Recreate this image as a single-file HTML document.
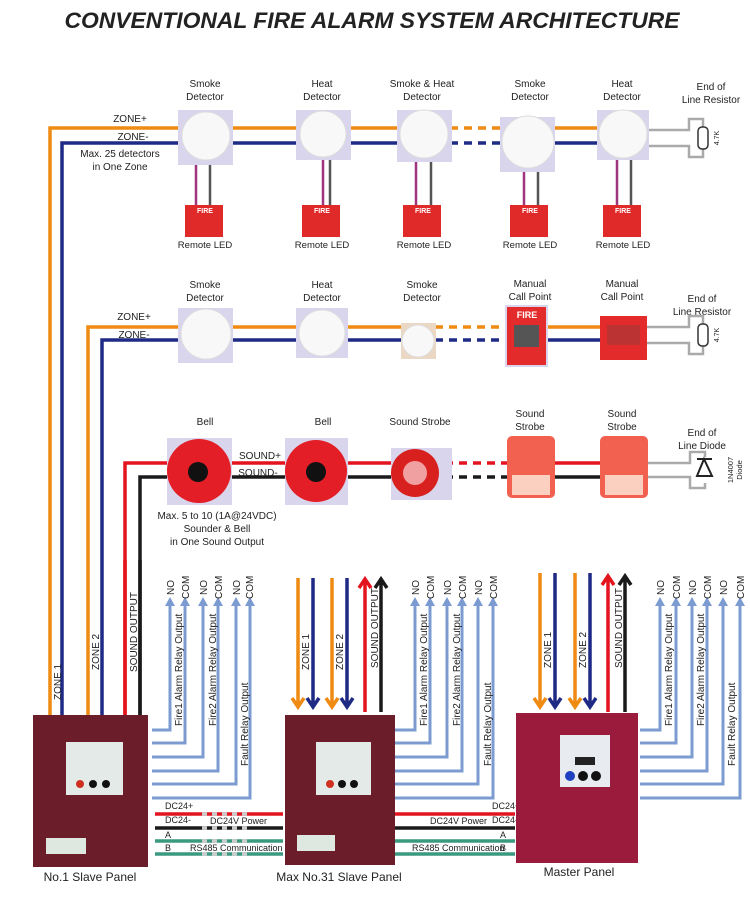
<!DOCTYPE html><html><head><meta charset="utf-8"><style>body{margin:0;background:#fff}svg{display:block}text{font-family:"Liberation Sans",sans-serif}</style></head><body>
<svg width="750" height="914" viewBox="0 0 750 914" xmlns="http://www.w3.org/2000/svg">
<text x="372" y="28" text-anchor="middle" font-size="22" font-weight="bold" font-style="italic" fill="#222" textLength="615" lengthAdjust="spacingAndGlyphs">CONVENTIONAL FIRE ALARM SYSTEM ARCHITECTURE</text>
<g font-size="10" fill="#222" text-anchor="middle">
<g fill="none" stroke-width="3.5">
<path d="M50 715V128H450" stroke="#ef8a12"/><path d="M62 715V143H450" stroke="#1f2a85"/>
<path d="M497 128H600" stroke="#ef8a12"/><path d="M497 143H600" stroke="#1f2a85"/>
<path d="M450 128H497" stroke="#ef8a12" stroke-dasharray="8 6"/><path d="M450 143H497" stroke="#1f2a85" stroke-dasharray="8 6"/>
</g>
<text x="130" y="122">ZONE+</text><text x="133" y="140">ZONE-</text>
<text x="120" y="157">Max. 25 detectors</text><text x="120" y="170">in One Zone</text>
<g stroke-width="2.5">
<path d="M196 160V205M323 160V205M416 160V205M524 170V205M617 160V205" stroke="#a0357f"/>
<path d="M210 160V205M330 160V205M431 160V205M538 170V205M631 160V205" stroke="#555"/>
</g>
<g fill="#d9d5ec">
<rect x="178" y="110" width="55" height="55"/><rect x="296" y="110" width="55" height="50"/><rect x="397" y="110" width="55" height="52"/><rect x="500" y="117" width="55" height="55"/><rect x="597" y="110" width="52" height="50"/>
</g>
<g fill="#f8f8f8" stroke="#ddd">
<circle cx="206" cy="136" r="24"/><circle cx="323" cy="134" r="23"/><circle cx="424" cy="134" r="24"/><circle cx="528" cy="142" r="26"/><circle cx="623" cy="134" r="24"/>
</g>
<g fill="#e02a2a"><rect x="185" y="205" width="38" height="32"/><rect x="302" y="205" width="38" height="32"/><rect x="403" y="205" width="38" height="32"/><rect x="510" y="205" width="38" height="32"/><rect x="603" y="205" width="38" height="32"/></g>
<g fill="#fff" font-size="7" font-weight="bold"><text x="205" y="213">FIRE</text><text x="322" y="213">FIRE</text><text x="423" y="213">FIRE</text><text x="530" y="213">FIRE</text><text x="623" y="213">FIRE</text></g>
<text x="205" y="87">Smoke</text><text x="205" y="100">Detector</text>
<text x="322" y="87">Heat</text><text x="322" y="100">Detector</text>
<text x="422" y="87">Smoke &amp; Heat</text><text x="422" y="100">Detector</text>
<text x="530" y="87">Smoke</text><text x="530" y="100">Detector</text>
<text x="622" y="87">Heat</text><text x="622" y="100">Detector</text>
<text x="711" y="90">End of</text><text x="711" y="103">Line Resistor</text>
<g font-size="9.5"><text x="205" y="248">Remote LED</text><text x="322" y="248">Remote LED</text><text x="424" y="248">Remote LED</text><text x="530" y="248">Remote LED</text><text x="623" y="248">Remote LED</text></g>
<g fill="none" stroke="#aaa" stroke-width="2.5"><path d="M649 130H689V119H703V128M649 146H689V157H703V148"/></g>
<rect x="698" y="127" width="10" height="22" rx="4" fill="#fff" stroke="#333" stroke-width="1.5"/>
<text x="0" y="0" font-size="7" transform="translate(719 138) rotate(-90)">4.7K</text>
<g fill="none" stroke-width="3.5">
<path d="M88 715V327H435" stroke="#ef8a12"/><path d="M102 715V340H435" stroke="#1f2a85"/>
<path d="M435 327H505" stroke="#ef8a12" stroke-dasharray="8 6"/><path d="M435 340H505" stroke="#1f2a85" stroke-dasharray="8 6"/>
<path d="M505 327H600" stroke="#ef8a12"/><path d="M505 340H600" stroke="#1f2a85"/>
</g>
<text x="134" y="320">ZONE+</text><text x="134" y="338">ZONE-</text>
<rect x="178" y="308" width="55" height="55" fill="#d9d5ec"/><circle cx="206" cy="334" r="25" fill="#f8f8f8" stroke="#ddd"/>
<rect x="296" y="308" width="52" height="50" fill="#d9d5ec"/><circle cx="322" cy="333" r="23" fill="#f8f8f8" stroke="#ddd"/>
<rect x="401" y="323" width="35" height="36" fill="#ead8c5"/><circle cx="418" cy="341" r="16" fill="#f8f8f8" stroke="#ddd"/>
<rect x="505" y="305" width="43" height="62" fill="#d9d5ec"/><rect x="507" y="307" width="39" height="58" fill="#e32b2b"/><rect x="514" y="325" width="25" height="22" fill="#555"/>
<text x="527" y="318" fill="#fff" font-size="9" font-weight="bold">FIRE</text>
<rect x="600" y="316" width="47" height="44" fill="#e32b2b"/><rect x="607" y="325" width="33" height="20" fill="#b33"/>
<text x="205" y="288">Smoke</text><text x="205" y="301">Detector</text>
<text x="322" y="288">Heat</text><text x="322" y="301">Detector</text>
<text x="422" y="288">Smoke</text><text x="422" y="301">Detector</text>
<text x="530" y="287">Manual</text><text x="530" y="300">Call Point</text>
<text x="622" y="287">Manual</text><text x="622" y="300">Call Point</text>
<text x="702" y="302">End of</text><text x="702" y="315">Line Resistor</text>
<g fill="none" stroke="#aaa" stroke-width="2.5"><path d="M647 327H689V316H703V325M647 343H689V354H703V345"/></g>
<rect x="698" y="324" width="10" height="22" rx="4" fill="#fff" stroke="#333" stroke-width="1.5"/>
<text x="0" y="0" font-size="7" transform="translate(719 335) rotate(-90)">4.7K</text>
<g fill="none" stroke-width="3.5">
<path d="M125 715V463H445" stroke="#e3141e"/><path d="M140 715V477H445" stroke="#1a1a1a"/>
<path d="M445 463H505" stroke="#e3141e" stroke-dasharray="8 6"/><path d="M445 477H505" stroke="#1a1a1a" stroke-dasharray="8 6"/>
<path d="M505 463H600" stroke="#e3141e"/><path d="M505 477H600" stroke="#1a1a1a"/>
</g>
<rect x="167" y="438" width="65" height="67" fill="#d9d5ec"/><circle cx="199" cy="471" r="32" fill="#e31e26"/><circle cx="198" cy="472" r="10" fill="#111"/>
<rect x="285" y="438" width="63" height="67" fill="#d9d5ec"/><circle cx="316" cy="471" r="31" fill="#e31e26"/><circle cx="316" cy="472" r="10" fill="#111"/>
<rect x="391" y="448" width="61" height="52" fill="#d9d5ec"/><circle cx="415" cy="473" r="24" fill="#d8201f"/><circle cx="415" cy="473" r="12" fill="#f0a0a0"/>
<rect x="507" y="436" width="48" height="62" rx="5" fill="#f26150"/><rect x="512" y="475" width="38" height="20" fill="#fbd0c0"/>
<rect x="600" y="436" width="48" height="62" rx="5" fill="#f26150"/><rect x="605" y="475" width="38" height="20" fill="#fbd0c0"/>
<text x="260" y="459">SOUND+</text><text x="258" y="476">SOUND-</text>
<text x="205" y="425">Bell</text><text x="323" y="425">Bell</text><text x="420" y="425">Sound Strobe</text>
<text x="530" y="417">Sound</text><text x="530" y="430">Strobe</text>
<text x="622" y="417">Sound</text><text x="622" y="430">Strobe</text>
<text x="702" y="436">End of</text><text x="702" y="449">Line Diode</text>
<text x="217" y="519">Max. 5  to 10 (1A@24VDC)</text><text x="217" y="532">Sounder &amp; Bell</text><text x="217" y="545">in One Sound Output</text>
<g fill="none" stroke="#aaa" stroke-width="2.5"><path d="M648 463H690V452H705V457M648 477H690V488H705V483"/></g>
<path d="M697 459H712M704 459L697 476H712Z" fill="#fff" stroke="#222" stroke-width="2"/>
<text x="0" y="0" font-size="7.5" transform="translate(733 470) rotate(-90)">1N4007</text>
<text x="0" y="0" font-size="7.5" transform="translate(742 470) rotate(-90)">Diode</text>
</g>
<g fill="none" stroke-width="3.5">
<path d="M125 715V560" stroke="#e3141e"/><path d="M140 715V560" stroke="#1a1a1a"/>
<path d="M298 578V706M292 698L298 707L304 698M332 578V706M326 698L332 707L338 698M540 573V706M534 698L540 707L546 698M575 573V706M569 698L575 707L581 698" stroke="#ef8a12"/>
<path d="M313 578V706M307 698L313 707L319 698M347 578V706M341 698L347 707L353 698M555 573V706M549 698L555 707L561 698M590 573V706M584 698L590 707L596 698" stroke="#1f2a85"/>
<path d="M365 712V580M359 588L365 579L371 588M608 712V577M602 585L608 576L614 585" stroke="#e3141e"/>
<path d="M381 712V580M375 588L381 579L387 588M625 712V577M619 585L625 576L631 585" stroke="#1a1a1a"/>
</g>
<g fill="none" stroke="#7c9bd0" stroke-width="3">
<path d="M152 730H170V602M152 743H185V602M152 757H203V602M152 771H218V602M152 784H236V602M152 798H250V602"/>
<path d="M395 730H415V602M395 743H430V602M395 757H447V602M395 771H462V602M395 784H478V602M395 798H493V602"/>
<path d="M640 730H660V602M640 743H676V602M640 757H692V602M640 771H707V602M640 784H723V602M640 798H740V602"/>
</g>
<g fill="#7c9bd0">
<path d="M165 606L170 597L175 606ZM180 606L185 597L190 606ZM198 606L203 597L208 606ZM213 606L218 597L223 606ZM231 606L236 597L241 606ZM245 606L250 597L255 606Z"/>
<path d="M410 606L415 597L420 606ZM425 606L430 597L435 606ZM442 606L447 597L452 606ZM457 606L462 597L467 606ZM473 606L478 597L483 606ZM488 606L493 597L498 606Z"/>
<path d="M655 606L660 597L665 606ZM671 606L676 597L681 606ZM687 606L692 597L697 606ZM702 606L707 597L712 606ZM718 606L723 597L728 606ZM735 606L740 597L745 606Z"/>
</g>
<g font-size="10" fill="#222">
<g transform="rotate(-90)">
<text x="-700" y="61">ZONE 1</text><text x="-670" y="99">ZONE 2</text><text x="-672" y="137">SOUND OUTPUT</text>
<text x="-670" y="309">ZONE 1</text><text x="-670" y="343">ZONE 2</text><text x="-668" y="378">SOUND OUTPUT</text>
<text x="-668" y="551">ZONE 1</text><text x="-668" y="586">ZONE 2</text><text x="-668" y="622">SOUND OUTPUT</text>
<text x="-726" y="182">Fire1 Alarm Relay Output</text><text x="-726" y="216">Fire2 Alarm Relay Output</text><text x="-766" y="248">Fault  Relay Output</text>
<text x="-726" y="427">Fire1 Alarm Relay Output</text><text x="-726" y="460">Fire2 Alarm Relay Output</text><text x="-766" y="491">Fault  Relay Output</text>
<text x="-726" y="672">Fire1 Alarm Relay Output</text><text x="-726" y="704">Fire2 Alarm Relay Output</text><text x="-766" y="735">Fault  Relay Output</text>
<text x="-595" y="174">NO</text><text x="-599" y="189">COM</text><text x="-595" y="207">NO</text><text x="-599" y="222">COM</text><text x="-595" y="240">NO</text><text x="-599" y="253">COM</text>
<text x="-595" y="419">NO</text><text x="-599" y="434">COM</text><text x="-595" y="451">NO</text><text x="-599" y="466">COM</text><text x="-595" y="482">NO</text><text x="-599" y="497">COM</text>
<text x="-595" y="664">NO</text><text x="-599" y="680">COM</text><text x="-595" y="696">NO</text><text x="-599" y="711">COM</text><text x="-595" y="727">NO</text><text x="-599" y="744">COM</text>
</g>
</g>
<g stroke-width="3.5">
<path d="M155 814H283M395 814H515" stroke="#e3141e"/><path d="M155 828H283M395 828H515" stroke="#1a1a1a"/>
<path d="M155 841H283M155 854H283M395 841H515M395 854H515" stroke="#3a9a80"/>
<path d="M202 814H252M202 828H252M202 841H252M202 854H252" stroke="#ccc" stroke-dasharray="5 5"/>
</g>
<g font-size="9" fill="#222">
<text x="165" y="809">DC24+</text><text x="165" y="823">DC24-</text><text x="210" y="824">DC24V Power</text><text x="165" y="838">A</text><text x="165" y="851">B</text><text x="190" y="851">RS485 Communication</text>
<text x="492" y="809">DC24+</text><text x="492" y="823">DC24-</text><text x="430" y="824">DC24V Power</text><text x="500" y="838">A</text><text x="500" y="851">B</text><text x="412" y="851">RS485 Communication</text>
</g>
<rect x="33" y="715" width="115" height="152" fill="#6c1d2a"/>
<rect x="66" y="742" width="57" height="53" fill="#e4eae8"/>
<circle cx="80" cy="784" r="4" fill="#d03020"/><circle cx="93" cy="784" r="4" fill="#111"/><circle cx="106" cy="784" r="4" fill="#111"/>
<rect x="46" y="838" width="40" height="16" fill="#dfe8e0"/>
<rect x="285" y="715" width="110" height="150" fill="#6c1d2a"/>
<rect x="316" y="742" width="55" height="53" fill="#e4eae8"/>
<circle cx="330" cy="784" r="4" fill="#d03020"/><circle cx="342" cy="784" r="4" fill="#111"/><circle cx="354" cy="784" r="4" fill="#111"/>
<rect x="297" y="835" width="38" height="16" fill="#dfe8e0"/>
<rect x="516" y="713" width="122" height="150" fill="#9b1b3c"/>
<rect x="560" y="735" width="50" height="52" fill="#e8ecf0"/>
<rect x="575" y="757" width="20" height="8" fill="#222"/>
<circle cx="570" cy="776" r="5" fill="#2040c0"/><circle cx="583" cy="776" r="5" fill="#111"/><circle cx="596" cy="776" r="5" fill="#111"/>
<g font-size="12" fill="#222" text-anchor="middle">
<text x="90" y="881">No.1 Slave Panel</text><text x="339" y="881">Max No.31 Slave Panel</text><text x="579" y="876">Master Panel</text>
</g>
</svg>
</body></html>
